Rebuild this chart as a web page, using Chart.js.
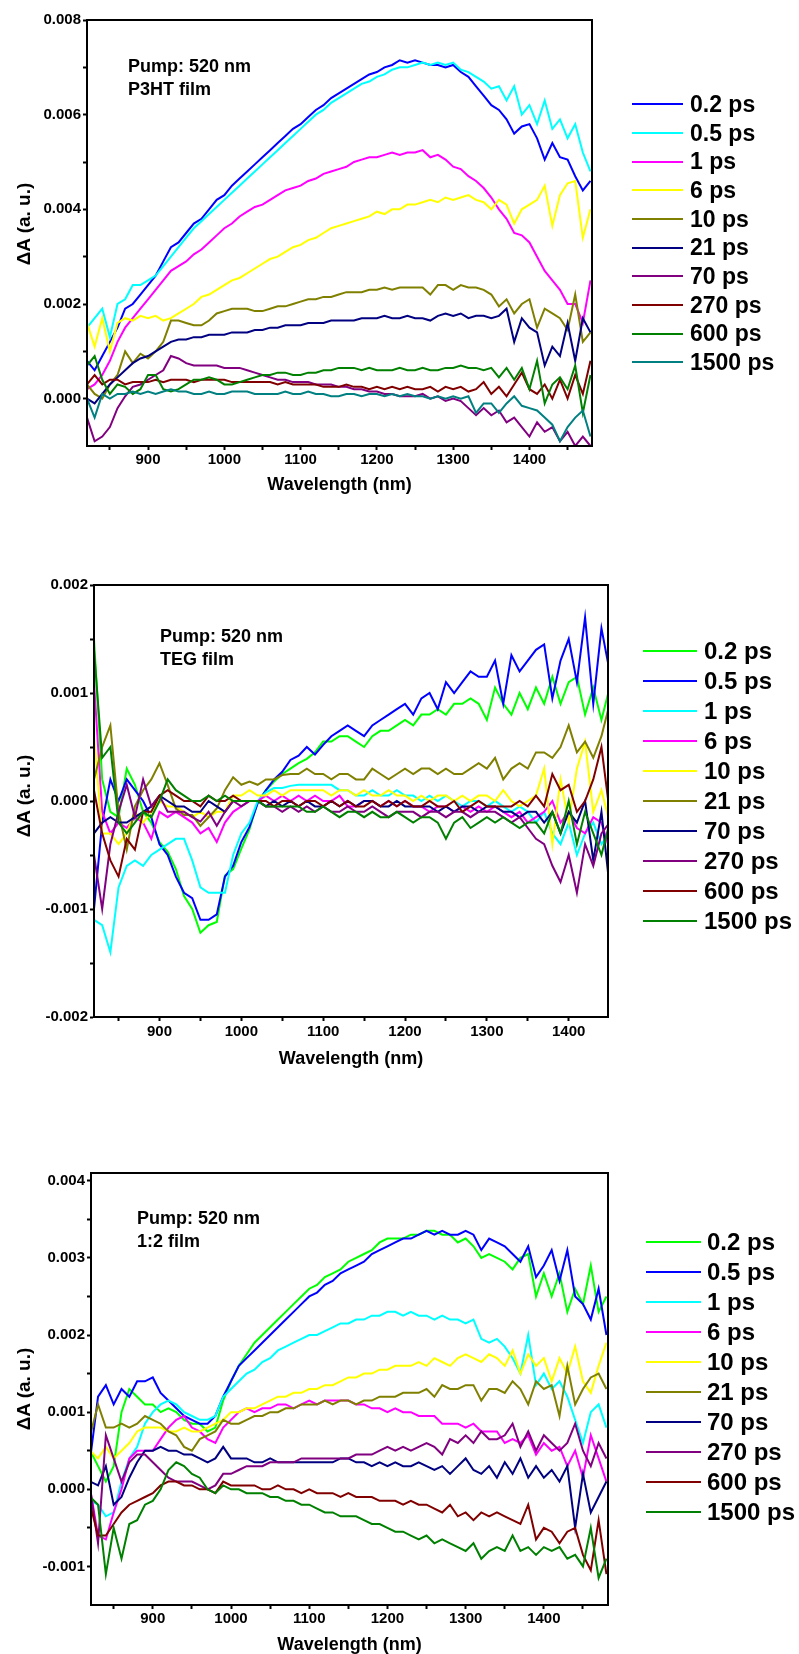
<!DOCTYPE html>
<html>
<head>
<meta charset="utf-8">
<title>Transient absorption spectra, pump 520 nm</title>
<script src="https://cdn.jsdelivr.net/npm/chart.js@4.4.0/dist/chart.umd.min.js"></script>
<style>
    html, body { margin: 0; padding: 0; background: #fff; }
    body {
        position: relative; width: 799px; height: 1654px; overflow: hidden;
        font-family: "Liberation Sans", Arial, Helvetica, sans-serif; font-weight: bold; color: #000;
    }
    canvas { position: absolute; left: 0; }
    .note { position: absolute; font-size: 18px; line-height: 22.5px; white-space: nowrap; }
    .ytitle {
        position: absolute; width: 200px; height: 24px; line-height: 24px;
        font-size: 19px; text-align: center; white-space: nowrap; transform: rotate(-90deg);
    }
    .legend { position: absolute; white-space: nowrap; }
    .legend .row { display: flex; align-items: center; }
    .legend .swatch { display: inline-block; height: 2px; }
</style>
</head>
<body>

<canvas id="chart1" width="799" height="500" style="top:0px"></canvas>
<canvas id="chart2" width="799" height="520" style="top:560px"></canvas>
<canvas id="chart3" width="799" height="506" style="top:1150px"></canvas>

<div class="ytitle" style="left:-76px; top:212px">ΔA (a. u.)</div>
<div class="ytitle" style="left:-76px; top:784px">ΔA (a. u.)</div>
<div class="ytitle" style="left:-76px; top:1377px">ΔA (a. u.)</div>

<div class="note" style="left:128px; top:55px">Pump: 520 nm<br>P3HT film</div>
<div class="note" style="left:160px; top:625px">Pump: 520 nm<br>TEG film</div>
<div class="note" style="left:137px; top:1207px">Pump: 520 nm<br>1:2 film</div>

<div class="legend" id="legend1"></div>
<div class="legend" id="legend2"></div>
<div class="legend" id="legend3"></div>

<script>
// ---------- data (ΔA) ----------

// Panel 1 : P3HT film
var p1Wavelength = [820, 830, 840, 850, 860, 870, 880, 890, 900, 910, 920, 930, 940, 950, 960, 970, 980, 990, 1000, 1010,
    1020, 1030, 1040, 1050, 1060, 1070, 1080, 1090, 1100, 1110, 1120, 1130, 1140, 1150, 1160, 1170, 1180, 1190, 1200, 1210,
    1220, 1230, 1240, 1250, 1260, 1270, 1280, 1290, 1300, 1310, 1320, 1330, 1340, 1350, 1360, 1370, 1380, 1390, 1400, 1410,
    1420, 1430, 1440, 1450, 1460, 1470, 1480];
var p1Labels = ['0.2 ps', '0.5 ps', '1 ps', '6 ps', '10 ps', '21 ps', '70 ps', '270 ps', '600 ps', '1500 ps'];
var p1Colors = ['#0000FF', '#00FFFF', '#FF00FF', '#FFFF00', '#808000', '#000080', '#800080', '#800000', '#008000', '#008080'];

var p1_02ps = [0.0008, 0.0006, 0.0009, 0.0012, 0.0015, 0.0019, 0.0020, 0.0022, 0.0024, 0.0026,
    0.0029, 0.0032, 0.0033, 0.0035, 0.0037, 0.0038, 0.0040, 0.0042, 0.0043, 0.0045,
    0.00465, 0.0048, 0.00495, 0.0051, 0.00525, 0.0054, 0.00555, 0.0057, 0.0058, 0.00595,
    0.0061, 0.0062, 0.00635, 0.00645, 0.00655, 0.00665, 0.00675, 0.00685, 0.0069, 0.0070,
    0.00705, 0.00715, 0.0071, 0.00715, 0.0071, 0.00705, 0.00705, 0.0070, 0.00705, 0.0069,
    0.0068, 0.0066, 0.0064, 0.0062, 0.0061, 0.0059, 0.0056, 0.00575, 0.0058, 0.0055,
    0.00505, 0.0054, 0.0051, 0.00505, 0.0047, 0.0044, 0.0046];
var p1_05ps = [0.0015, 0.0017, 0.0019, 0.0013, 0.0020, 0.0021, 0.0024, 0.0024, 0.0025, 0.0026,
    0.0028, 0.0030, 0.0032, 0.0034, 0.0036, 0.00375, 0.0039, 0.00405, 0.0042, 0.00435,
    0.0045, 0.00465, 0.0048, 0.00495, 0.0051, 0.00525, 0.0054, 0.00555, 0.0057, 0.00585,
    0.0060, 0.0061, 0.00625, 0.00635, 0.00645, 0.00655, 0.00665, 0.0067, 0.0068, 0.00685,
    0.00695, 0.0070, 0.0070, 0.00705, 0.0071, 0.00705, 0.0071, 0.00705, 0.0071, 0.00695,
    0.0069, 0.0068, 0.0067, 0.00655, 0.0066, 0.0063, 0.0066, 0.0060, 0.0062, 0.0058,
    0.0063, 0.0057, 0.0059, 0.0055, 0.0058, 0.0052, 0.0048];
var p1_1ps = [0.0002, 0.0003, 0.0005, 0.0008, 0.0012, 0.0015, 0.0017, 0.0019, 0.0021, 0.0023,
    0.0025, 0.0027, 0.0028, 0.0029, 0.00305, 0.00315, 0.0033, 0.00345, 0.0036, 0.0037,
    0.00385, 0.00395, 0.00405, 0.0041, 0.0042, 0.0043, 0.0044, 0.00445, 0.0045, 0.0046,
    0.00465, 0.00475, 0.0048, 0.00485, 0.0049, 0.0050, 0.00505, 0.0051, 0.0051, 0.00515,
    0.0052, 0.00515, 0.0052, 0.0052, 0.00525, 0.0051, 0.00515, 0.00505, 0.0049, 0.00485,
    0.0047, 0.0046, 0.00445, 0.00425, 0.0040, 0.0038, 0.0035, 0.00345, 0.0033, 0.0030,
    0.0027, 0.0025, 0.0023, 0.0020, 0.0020, 0.0016, 0.0025];
var p1_6ps = [0.0016, 0.0011, 0.0017, 0.0010, 0.0016, 0.0017, 0.00165, 0.00175, 0.0017, 0.00175,
    0.00165, 0.0017, 0.0018, 0.0019, 0.0020, 0.00215, 0.0022, 0.0023, 0.0024, 0.0025,
    0.00255, 0.00265, 0.00275, 0.00285, 0.00295, 0.0030, 0.0031, 0.0032, 0.00325, 0.00335,
    0.0034, 0.0035, 0.0036, 0.00365, 0.0037, 0.00375, 0.0038, 0.00385, 0.00395, 0.0039,
    0.0040, 0.0040, 0.0041, 0.0041, 0.00415, 0.0042, 0.00415, 0.00425, 0.0042, 0.00425,
    0.0043, 0.0042, 0.00415, 0.0040, 0.0042, 0.0041, 0.0037, 0.0040, 0.0041, 0.0042,
    0.0045, 0.00365, 0.0043, 0.00455, 0.0046, 0.0034, 0.0040];
var p1_10ps = [0.0003, 0.0001, 0, 0.0003, 0.0005, 0.0010, 0.00075, 0.00095, 0.00085, 0.0010,
    0.0012, 0.00165, 0.00165, 0.0016, 0.00155, 0.00155, 0.00165, 0.0018, 0.00185, 0.0019,
    0.0019, 0.0019, 0.00185, 0.00185, 0.0019, 0.00195, 0.00195, 0.0020, 0.00205, 0.0021,
    0.0021, 0.00215, 0.00215, 0.0022, 0.00225, 0.00225, 0.00225, 0.0023, 0.0023, 0.00235,
    0.0023, 0.00235, 0.00235, 0.00235, 0.00235, 0.0022, 0.0024, 0.0024, 0.0023, 0.0024,
    0.00235, 0.00235, 0.0023, 0.0022, 0.00195, 0.0021, 0.0018, 0.0020, 0.0021, 0.0015,
    0.0019, 0.0018, 0.0017, 0.00145, 0.0022, 0.0012, 0.0014];
var p1_21ps = [0, -0.0001, 0.0001, 0.0003, 0.00045, 0.0006, 0.00075, 0.00085, 0.0009, 0.0010,
    0.0011, 0.0012, 0.00125, 0.00125, 0.0013, 0.0013, 0.00135, 0.00135, 0.00135, 0.0014,
    0.0014, 0.0014, 0.00145, 0.00145, 0.0015, 0.0015, 0.00155, 0.00155, 0.00155, 0.0016,
    0.0016, 0.0016, 0.00165, 0.00165, 0.00165, 0.00165, 0.0017, 0.0017, 0.0017, 0.00175,
    0.0017, 0.0017, 0.00175, 0.0017, 0.0017, 0.00165, 0.00175, 0.0018, 0.00175, 0.0018,
    0.0017, 0.00175, 0.00175, 0.0017, 0.00175, 0.0019, 0.0012, 0.0017, 0.0015, 0.0014,
    0.0007, 0.0011, 0.0009, 0.0016, 0.0008, 0.0017, 0.0014];
var p1_70ps = [-0.0004, -0.0009, -0.0008, -0.0006, -0.0002, 0.00005, 0.00025, 0.0003, 0.0004, 0.0005,
    0.0006, 0.0009, 0.00085, 0.00075, 0.0007, 0.0007, 0.0007, 0.0007, 0.00065, 0.00065,
    0.00065, 0.0006, 0.00055, 0.0005, 0.00045, 0.0004, 0.0004, 0.00035, 0.00035, 0.00035,
    0.0003, 0.0003, 0.0003, 0.00025, 0.00025, 0.0002, 0.0002, 0.00015, 0.00015, 0.0001,
    0.0001, 0.00005, 0.00005, 0.00005, 0.0001, 0, 0.00005, -0.00005, 0, -0.00005,
    -0.0002, -0.00035, -0.0002, -0.00035, -0.00025, -0.0005, -0.0004, -0.0006, -0.0008, -0.0005,
    -0.0007, -0.0006, -0.0009, -0.0007, -0.0010, -0.0008, -0.0010];
var p1_270ps = [0.0003, 0.0005, 0.0003, 0.0004, 0.0004, 0.0003, 0.00035, 0.00035, 0.00035, 0.0004,
    0.00035, 0.0004, 0.0004, 0.0004, 0.00035, 0.0004, 0.0004, 0.0004, 0.0004, 0.00035,
    0.00035, 0.00035, 0.00035, 0.00035, 0.00035, 0.0003, 0.00035, 0.0003, 0.0003, 0.0003,
    0.0003, 0.00025, 0.00025, 0.00025, 0.0003, 0.00025, 0.00025, 0.0002, 0.00025, 0.0002,
    0.00025, 0.0002, 0.00025, 0.0002, 0.0002, 0.00025, 0.00015, 0.00025, 0.0002, 0.00025,
    0.00015, 0.0002, 0.00035, 0.0001, 0.00025, 0.00005, 0.0003, 0.00055, 0.0002, 0.0001,
    0.0003, 0, 0.0004, 0, 0.0005, 0.0001, 0.0008];
var p1_600ps = [0.0007, 0.0009, 0.0004, 0.0001, 0.0003, 0.00025, 0.0001, 0.0002, 0.0005, 0.0005,
    0.0002, 0.00015, 0.0002, 0.0003, 0.0004, 0.0004, 0.00045, 0.0004, 0.0003, 0.0003,
    0.00035, 0.0004, 0.00045, 0.0005, 0.0005, 0.00055, 0.00055, 0.0005, 0.0005, 0.00055,
    0.00055, 0.0006, 0.0006, 0.00065, 0.00065, 0.00065, 0.0006, 0.00065, 0.0006, 0.0006,
    0.0006, 0.00065, 0.0006, 0.0006, 0.00065, 0.0006, 0.0006, 0.00065, 0.00065, 0.0007,
    0.00065, 0.00065, 0.0006, 0.00065, 0.00045, 0.00065, 0.0004, 0.00065, 0.0002, 0.0008,
    -0.0001, 0.0003, 0.00045, 0.0002, 0.0007, -0.0003, 0.0005];
var p1_1500ps = [0, -0.0004, 0.0001, 0, 0.0001, 0.0001, 0.00015, 0.0001, 0.00015, 0.0001,
    0.00015, 0.0002, 0.00015, 0.00015, 0.0001, 0.0001, 0.00015, 0.0001, 0.0001, 0.00015,
    0.00015, 0.00015, 0.0001, 0.0001, 0.0001, 0.0001, 0.00015, 0.0001, 0.0001, 0.00015,
    0.0001, 0.0001, 0.00005, 0.00005, 0.0001, 0.0001, 0.00005, 0.0001, 0.0001, 0.00005,
    0.0001, 0.00005, 0.0001, 0.00005, 0.00005, 0, 0.00005, 0, 0.00005, 0,
    0.00005, -0.0003, -0.0001, -0.0001, -0.0003, -0.0001, 0.00005, -0.00015, -0.0002, -0.00025,
    -0.0004, -0.00055, -0.0009, -0.0006, -0.0004, -0.00025, -0.0008];

var p1XMajor = [900, 1000, 1100, 1200, 1300, 1400];
var p1XLabels = ['900', '1000', '1100', '1200', '1300', '1400'];
var p1XMinor = [850, 950, 1050, 1150, 1250, 1350, 1450];
var p1YMajor = [0, 0.002, 0.004, 0.006, 0.008];
var p1YLabels = ['0.000', '0.002', '0.004', '0.006', '0.008'];
var p1YMinor = [0.001, 0.003, 0.005, 0.007];

// Panel 2 : TEG film
var p2Wavelength = [820, 830, 840, 850, 860, 870, 880, 890, 900, 910, 920, 930, 940, 950, 960, 970, 980, 990, 1000, 1010,
    1020, 1030, 1040, 1050, 1060, 1070, 1080, 1090, 1100, 1110, 1120, 1130, 1140, 1150, 1160, 1170, 1180, 1190, 1200, 1210,
    1220, 1230, 1240, 1250, 1260, 1270, 1280, 1290, 1300, 1310, 1320, 1330, 1340, 1350, 1360, 1370, 1380, 1390, 1400, 1410,
    1420, 1430, 1440, 1450];
var p2Labels = ['0.2 ps', '0.5 ps', '1 ps', '6 ps', '10 ps', '21 ps', '70 ps', '270 ps', '600 ps', '1500 ps'];
var p2Colors = ['#00FF00', '#0000FF', '#00FFFF', '#FF00FF', '#FFFF00', '#808000', '#000080', '#800080', '#800000', '#008000'];

var p2_02ps = [0.0015, 0.0002, -0.0001, -0.00015, 0.0003, 0.00015, -0.0001, -0.0002, -0.00038, -0.00047,
    -0.00063, -0.00088, -0.0010, -0.00122, -0.00115, -0.00112, -0.00069, -0.00063, -0.00044, -0.00026,
    -0.00001, 0.0001, 0.00018, 0.00025, 0.0003, 0.00035, 0.00039, 0.00045, 0.00055, 0.00055,
    0.0006, 0.0006, 0.00055, 0.0005, 0.0006, 0.00065, 0.00065, 0.0007, 0.00075, 0.0007,
    0.0008, 0.0008, 0.00085, 0.0008, 0.0009, 0.0009, 0.00095, 0.0009, 0.00075, 0.00105,
    0.0009, 0.0008, 0.0010, 0.00085, 0.00105, 0.0009, 0.00115, 0.0009, 0.0011, 0.00115,
    0.0008, 0.00105, 0.00075, 0.00105];
var p2_05ps = [-0.0010, -0.0002, 0.0002, 0, 0.0002, 0.0001, 0, -0.00015, -0.0004, -0.0005,
    -0.0007, -0.00085, -0.0009, -0.0011, -0.0011, -0.00105, -0.0007, -0.0006, -0.00038, -0.00024,
    -0.00002, 0.0001, 0.0002, 0.00027, 0.00038, 0.00042, 0.0005, 0.00043, 0.00052, 0.0006,
    0.00065, 0.0007, 0.00065, 0.0006, 0.0007, 0.00075, 0.0008, 0.00085, 0.0009, 0.0008,
    0.00095, 0.0010, 0.00085, 0.0011, 0.0010, 0.0011, 0.0012, 0.00115, 0.00115, 0.0013,
    0.0009, 0.00135, 0.0012, 0.0013, 0.0014, 0.00145, 0.00095, 0.0013, 0.0015, 0.0011,
    0.0017, 0.0009, 0.0016, 0.0012];
var p2_1ps = [-0.0011, -0.00115, -0.0014, -0.0008, -0.0006, -0.00055, -0.0006, -0.0005, -0.00045, -0.0004,
    -0.00035, -0.00035, -0.00055, -0.0008, -0.00085, -0.00085, -0.00085, -0.0005, -0.0003, -0.0002,
    0, 0.00008, 0.00012, 0.00012, 0.00014, 0.00015, 0.00015, 0.00015, 0.00015, 0.00015,
    0.0001, 0.0001, 0.00005, 0.00005, 0.0001, 0.00005, 0.00005, 0.0001, 0.00005, 0.00005,
    0, 0.00005, 0, 0.00005, 0, -0.00005, 0, 0, -0.00005, 0,
    -0.00005, -0.0001, -0.00005, -0.0001, -0.0002, -0.0001, -0.0003, -0.0004, -0.0002, -0.0005,
    -0.0003, -0.0002, -0.0004, -0.0003];
var p2_6ps = [0.0011, -0.0001, -0.0003, -0.0002, -0.00025, -0.00015, -0.0002, -0.00035, -0.0001, -0.00015,
    -0.0001, -0.00015, -0.0002, -0.0003, -0.00025, -0.00038, -0.0002, -0.0001, -0.00005, 0,
    0, 0.00005, 0, 0.00005, 0, 0.00005, 0, 0.00005, 0, 0,
    0.00005, -0.00005, -0.00005, 0, 0, -0.00005, 0, -0.00005, 0, -0.00005,
    -0.00005, -0.0001, -0.00005, -0.00005, -0.0001, -0.00005, -0.0001, -0.00005, -0.0001, -0.00005,
    -0.0001, -0.00015, -0.0001, -0.0002, -0.00015, -0.0001, 0, -0.0002, -0.0001, -0.00025,
    -0.0003, -0.00015, -0.0002, -0.00045];
var p2_10ps = [0.0006, -0.0003, -0.0003, -0.0004, -0.0003, -0.0001, -0.0002, -0.0001, 0, -0.00005,
    -0.00005, -0.0001, -0.00015, -0.0001, -0.00015, -0.0001, -0.0001, 0.00005, 0.00005, 0.0001,
    0.00005, 0.00005, 0.0001, 0.00005, 0.0001, 0.0001, 0.0001, 0.0001, 0.0001, 0.00005,
    0.0001, 0.0001, 0.00005, 0.0001, 0.00005, 0.00005, 0.0001, 0.00005, 0.00005, 0,
    0.00005, 0, 0.00005, 0.00005, 0, 0.00005, 0, 0.00005, 0.00005, 0,
    0.0001, 0, -0.00005, 0, 0.00005, 0.0003, -0.0004, 0.0002, -0.0002, 0.0003,
    0.00055, -0.0001, 0.0001, -0.0002];
var p2_21ps = [0.0002, 0.0005, 0.0007, -0.0001, -0.00045, -0.00005, 0.0001, 0.0002, 0.00035, 0.00015,
    -0.00007, -0.00013, -0.00013, -0.00023, -0.00015, -0.00007, 0.0001, 0.00022, 0.00015, 0.00018,
    0.00015, 0.0002, 0.0002, 0.00024, 0.00025, 0.00025, 0.0003, 0.00025, 0.00025, 0.0002,
    0.00025, 0.00025, 0.0002, 0.0002, 0.0003, 0.00025, 0.0002, 0.00025, 0.0003, 0.00025,
    0.0003, 0.0003, 0.00025, 0.0003, 0.00025, 0.00025, 0.0003, 0.00035, 0.0003, 0.0004,
    0.0002, 0.0003, 0.00035, 0.0003, 0.00045, 0.00045, 0.0004, 0.0005, 0.0007, 0.00045,
    0.00055, 0.0004, 0.0006, 0.0009];
var p2_70ps = [-0.0003, -0.0002, -0.00015, -0.0002, -0.0002, -0.00015, -0.0001, -0.00005, 0.00005, 0,
    -0.00005, -0.00005, -0.0001, -0.0001, 0, -0.00005, -0.0001, 0, 0, 0,
    0, -0.00005, 0, -0.00005, 0, -0.00005, 0, -0.00005, -0.00005, 0,
    -0.00005, 0, -0.00005, 0, 0, -0.00005, -0.00005, 0, -0.00005, -0.00005,
    -0.00005, -0.00005, -0.0001, -0.00005, -0.0001, -0.00005, -0.00005, -0.0001, -0.00005, -0.00005,
    -0.0001, -0.0001, -0.00015, -0.0001, -0.0001, -0.0002, -0.0001, -0.0003, -0.0001, -0.0002,
    0, -0.00055, -0.0001, -0.0008];
var p2_270ps = [-0.0005, -0.0010, -0.0004, -0.0001, 0.00015, -0.00015, 0.0002, -0.00005, 0.00005, -0.0001,
    -0.0001, -0.0001, -0.00015, -0.00019, -0.0001, -0.00023, -0.0001, 0, -0.00005, 0,
    0, -0.00005, -0.00005, -0.0001, -0.00005, -0.0001, -0.00005, -0.0001, -0.00005, -0.0001,
    -0.0001, -0.00005, -0.0001, -0.0001, -0.00005, -0.0001, -0.00015, -0.0001, -0.0001, -0.0001,
    -0.00015, -0.0001, -0.0001, -0.00015, -0.0001, -0.0001, -0.00015, -0.0001, -0.0001, -0.0001,
    -0.00015, -0.0002, -0.00015, -0.00025, -0.00035, -0.0004, -0.0006, -0.00075, -0.0005, -0.00085,
    -0.0004, -0.0006, -0.0003, -0.0002];
var p2_600ps = [0.0001, -0.0003, -0.00055, -0.0007, -0.00035, -0.00045, -0.0001, -0.0001, 0.00005, 0.0001,
    0.00005, 0, 0, -0.00005, 0.00005, 0, 0, 0.00005, 0, 0,
    0, 0, -0.00005, 0, 0, -0.00005, 0, 0, -0.00005, 0,
    -0.00005, 0, -0.00005, -0.00005, 0, -0.00005, 0, -0.00005, 0, -0.00005,
    -0.00005, 0, -0.00005, -0.00005, 0, -0.0001, -0.00005, 0, -0.00005, -0.00005,
    -0.00005, -0.00005, 0, -0.00005, 0.00005, -0.00005, 0.00025, 0.0001, 0.00015, -0.0001,
    0, 0.0002, 0.0005, -0.0001];
var p2_1500ps = [0.0014, 0.0004, 0.0005, -0.0002, -0.0003, -0.0002, -0.0001, -0.00015, 0, 0.0002,
    0.0001, 0.00005, 0, 0, 0.00005, 0, 0.00005, 0, 0, 0,
    0, -0.00005, -0.00005, -0.00005, -0.00005, -0.00005, -0.0001, -0.0001, -0.00005, -0.0001,
    -0.00015, -0.0001, -0.0001, -0.00015, -0.0001, -0.00015, -0.00015, -0.0001, -0.00015, -0.0002,
    -0.00015, -0.00015, -0.0002, -0.00035, -0.0002, -0.00015, -0.00025, -0.0002, -0.00015, -0.0002,
    -0.00015, -0.0002, -0.00025, -0.0002, -0.0002, -0.0003, -0.0001, -0.0003, 0, -0.0004,
    -0.0001, -0.0003, -0.0005, -0.0002];

var p2XMajor = [900, 1000, 1100, 1200, 1300, 1400];
var p2XLabels = ['900', '1000', '1100', '1200', '1300', '1400'];
var p2XMinor = [850, 950, 1050, 1150, 1250, 1350];
var p2YMajor = [-0.002, -0.001, 0, 0.001, 0.002];
var p2YLabels = ['-0.002', '-0.001', '0.000', '0.001', '0.002'];
var p2YMinor = [-0.0015, -0.0005, 0.0005, 0.0015];

// Panel 3 : 1:2 film
var p3Wavelength = [820, 830, 840, 850, 860, 870, 880, 890, 900, 910, 920, 930, 940, 950, 960, 970, 980, 990, 1000, 1010,
    1020, 1030, 1040, 1050, 1060, 1070, 1080, 1090, 1100, 1110, 1120, 1130, 1140, 1150, 1160, 1170, 1180, 1190, 1200, 1210,
    1220, 1230, 1240, 1250, 1260, 1270, 1280, 1290, 1300, 1310, 1320, 1330, 1340, 1350, 1360, 1370, 1380, 1390, 1400, 1410,
    1420, 1430, 1440, 1450, 1460, 1470, 1480];
var p3Labels = ['0.2 ps', '0.5 ps', '1 ps', '6 ps', '10 ps', '21 ps', '70 ps', '270 ps', '600 ps', '1500 ps'];
var p3Colors = ['#00FF00', '#0000FF', '#00FFFF', '#FF00FF', '#FFFF00', '#808000', '#000080', '#800080', '#800000', '#008000'];

var p3_02ps = [0.0005, 0.0003, 0.0001, 0.0003, 0.0010, 0.0013, 0.0012, 0.0011, 0.0011, 0.0010,
    0.00105, 0.0010, 0.0009, 0.00085, 0.00085, 0.00075, 0.0008, 0.00115, 0.0014, 0.0016,
    0.00175, 0.0019, 0.0020, 0.0021, 0.0022, 0.0023, 0.0024, 0.0025, 0.0026, 0.00265,
    0.00275, 0.0028, 0.00285, 0.00295, 0.0030, 0.00305, 0.0031, 0.0032, 0.00325, 0.00325,
    0.00325, 0.0033, 0.0033, 0.00335, 0.00335, 0.0033, 0.0033, 0.0032, 0.00325, 0.00315,
    0.0030, 0.00305, 0.0030, 0.00295, 0.00285, 0.0030, 0.00305, 0.0025, 0.0028, 0.0025,
    0.0028, 0.0023, 0.0026, 0.0024, 0.0029, 0.0023, 0.0025];
var p3_05ps = [0.0004, 0.0012, 0.00135, 0.0011, 0.0013, 0.0012, 0.0014, 0.0014, 0.00145, 0.00125,
    0.00115, 0.00105, 0.00095, 0.0009, 0.00085, 0.00085, 0.00095, 0.0012, 0.0014, 0.0016,
    0.0017, 0.0018, 0.0019, 0.0020, 0.0021, 0.0022, 0.0023, 0.0024, 0.0025, 0.00255,
    0.00265, 0.0027, 0.0028, 0.00285, 0.0029, 0.00295, 0.00305, 0.0031, 0.00315, 0.0032,
    0.00325, 0.00325, 0.0033, 0.00335, 0.0033, 0.00335, 0.0033, 0.0033, 0.00335, 0.0033,
    0.0031, 0.00325, 0.0032, 0.00315, 0.00305, 0.00295, 0.00315, 0.00275, 0.0029, 0.0031,
    0.0027, 0.0031, 0.0025, 0.0024, 0.0022, 0.0026, 0.0020];
var p3_1ps = [-0.00015, -0.0002, -0.00035, -0.0003, 0.0001, 0.0004, 0.00055, 0.00085, 0.0010, 0.0011,
    0.00115, 0.0011, 0.0010, 0.00095, 0.0009, 0.0009, 0.00095, 0.0012, 0.0013, 0.0014,
    0.0015, 0.00155, 0.00165, 0.0017, 0.0018, 0.00185, 0.0019, 0.00195, 0.0020, 0.0020,
    0.00205, 0.0021, 0.00215, 0.00215, 0.0022, 0.0022, 0.00225, 0.00225, 0.0023, 0.0023,
    0.00225, 0.0023, 0.00225, 0.00225, 0.0022, 0.00225, 0.0022, 0.0022, 0.00215, 0.0022,
    0.00195, 0.0019, 0.00195, 0.00185, 0.0017, 0.0015, 0.0020, 0.00135, 0.0015, 0.0013,
    0.0014, 0.0012, 0.0009, 0.0006, 0.0010, 0.0011, 0.0008];
var p3_6ps = [0, -0.0006, -0.00065, -0.0003, 0, 0.0004, 0.0005, 0.0005, 0.0005, 0.00065,
    0.0008, 0.0009, 0.00095, 0.0008, 0.00075, 0.00065, 0.0006, 0.0008, 0.0009, 0.0010,
    0.00105, 0.0010, 0.00105, 0.00105, 0.0011, 0.0011, 0.00105, 0.0011, 0.00115, 0.0011,
    0.00115, 0.00115, 0.00115, 0.00115, 0.0011, 0.0011, 0.00105, 0.00105, 0.0010, 0.00105,
    0.0010, 0.0010, 0.00095, 0.00095, 0.00095, 0.00085, 0.00085, 0.00085, 0.0008, 0.00085,
    0.00075, 0.00075, 0.00075, 0.0006, 0.00065, 0.0006, 0.0007, 0.00045, 0.0006, 0.0005,
    0.00055, 0.0003, 0.0005, 0.00015, 0.0007, 0.0004, 0.0001];
var p3_10ps = [0.0005, 0.0004, 0.00055, 0.0004, 0.0005, 0.0006, 0.00075, 0.0008, 0.0008, 0.0008,
    0.00075, 0.00075, 0.0008, 0.00075, 0.00075, 0.0008, 0.00085, 0.0009, 0.0010, 0.0010,
    0.00105, 0.00105, 0.0011, 0.00115, 0.0012, 0.0012, 0.00125, 0.00125, 0.0013, 0.0013,
    0.00135, 0.00135, 0.0014, 0.00145, 0.00145, 0.0015, 0.0015, 0.00155, 0.00155, 0.0016,
    0.0016, 0.0016, 0.00165, 0.0016, 0.0017, 0.00165, 0.0016, 0.0017, 0.00175, 0.0017,
    0.00165, 0.00175, 0.0017, 0.0016, 0.0018, 0.0015, 0.00175, 0.0016, 0.0017, 0.0014,
    0.0017, 0.0015, 0.00185, 0.0014, 0.00125, 0.0016, 0.0019];
var p3_21ps = [0.0007, 0.0011, 0.0008, 0.0008, 0.00085, 0.0008, 0.00085, 0.00095, 0.0009, 0.00085,
    0.00075, 0.0007, 0.00055, 0.0005, 0.00065, 0.0007, 0.00075, 0.0009, 0.00085, 0.00085,
    0.0009, 0.00095, 0.00095, 0.0010, 0.0010, 0.00105, 0.00105, 0.0011, 0.0011, 0.0011,
    0.00115, 0.0011, 0.00115, 0.00115, 0.0011, 0.00115, 0.00115, 0.0012, 0.0012, 0.0012,
    0.00125, 0.00125, 0.00125, 0.0013, 0.0012, 0.00135, 0.0013, 0.0013, 0.00135, 0.00135,
    0.00115, 0.0013, 0.0013, 0.00125, 0.0014, 0.0013, 0.0011, 0.0014, 0.0013, 0.00135,
    0.00095, 0.0016, 0.0011, 0.0013, 0.00145, 0.0015, 0.0013];
var p3_70ps = [0.0001, 0.00005, 0.0003, -0.0002, -0.0001, 0.00015, 0.00035, 0.0005, 0.0005, 0.00055,
    0.0005, 0.0005, 0.00045, 0.00045, 0.0004, 0.00035, 0.0004, 0.00055, 0.0004, 0.0004,
    0.0004, 0.00035, 0.00035, 0.0004, 0.00035, 0.00035, 0.00035, 0.00035, 0.00035, 0.00035,
    0.00035, 0.00035, 0.0004, 0.0004, 0.00035, 0.00035, 0.0003, 0.00035, 0.0003, 0.00035,
    0.0003, 0.0003, 0.00035, 0.0003, 0.00025, 0.0003, 0.0002, 0.0003, 0.0004, 0.00025,
    0.0002, 0.0003, 0.00015, 0.00035, 0.0002, 0.0004, 0.00015, 0.0003, 0.00015, 0.00025,
    0.0001, 0.0003, -0.0005, 0.0002, -0.0003, -0.0001, 0.0001];
var p3_270ps = [0, -0.0007, 0.0007, 0.0004, 0.0001, 0.00035, 0.00045, 0.00045, 0.00035, 0.00025,
    0.00015, 0.0001, 0.0001, 0.0001, 0.00005, 0, 0.00005, 0.0002, 0.0002, 0.00025,
    0.0003, 0.0003, 0.0003, 0.00035, 0.00035, 0.00035, 0.00035, 0.0004, 0.0004, 0.0004,
    0.0004, 0.0004, 0.0004, 0.0004, 0.00045, 0.00045, 0.00045, 0.0005, 0.00055, 0.0005,
    0.00055, 0.0005, 0.00055, 0.0006, 0.00055, 0.00045, 0.00065, 0.0006, 0.0007, 0.0006,
    0.00075, 0.00065, 0.00065, 0.0007, 0.00085, 0.00055, 0.00075, 0.0005, 0.0007, 0.0006,
    0.0005, 0.0006, 0.00085, 0.0005, 0.0003, 0.0006, 0.0004];
var p3_600ps = [-0.0002, -0.0006, -0.0006, -0.00045, -0.0003, -0.0002, -0.00015, -0.0001, -0.00005, 0.00005,
    0.0001, 0.0001, 0.00005, 0.00005, 0, 0, -0.00005, 0.0001, 0.00005, 0.00005,
    0.00005, 0.00005, 0, 0, 0.00005, 0, 0, -0.00005, 0, -0.00005,
    -0.00005, -0.00005, -0.0001, -0.00005, -0.0001, -0.0001, -0.0001, -0.00015, -0.00015, -0.00015,
    -0.0002, -0.00015, -0.0002, -0.0002, -0.00025, -0.0003, -0.0002, -0.00035, -0.0003, -0.0004,
    -0.0003, -0.00035, -0.0003, -0.00035, -0.0004, -0.00045, -0.0002, -0.00065, -0.0005, -0.00055,
    -0.0007, -0.00055, -0.0005, -0.00085, -0.00105, -0.0004, -0.0011];
var p3_1500ps = [-0.0001, -0.0002, -0.0011, -0.0005, -0.0009, -0.00045, -0.0004, -0.0002, -0.00015, 0,
    0.00025, 0.00035, 0.0003, 0.0002, 0.00015, 0, -0.00005, 0.00005, 0, 0,
    -0.00005, -0.00005, -0.00005, -0.0001, -0.0001, -0.00015, -0.00015, -0.0002, -0.0002, -0.00025,
    -0.0003, -0.0003, -0.00035, -0.00035, -0.00035, -0.0004, -0.00045, -0.00045, -0.0005, -0.00055,
    -0.00055, -0.0006, -0.00065, -0.0006, -0.0007, -0.00065, -0.0007, -0.00075, -0.0008, -0.0007,
    -0.0009, -0.0008, -0.00075, -0.0008, -0.0006, -0.0008, -0.00075, -0.00085, -0.00075, -0.0008,
    -0.00075, -0.0009, -0.00085, -0.0010, -0.0005, -0.00115, -0.0009];

var p3XMajor = [900, 1000, 1100, 1200, 1300, 1400];
var p3XLabels = ['900', '1000', '1100', '1200', '1300', '1400'];
var p3XMinor = [850, 950, 1050, 1150, 1250, 1350, 1450];
var p3YMajor = [-0.001, 0, 0.001, 0.002, 0.003, 0.004];
var p3YLabels = ['-0.001', '0.000', '0.001', '0.002', '0.003', '0.004'];
var p3YMinor = [-0.0005, 0.0005, 0.0015, 0.0025, 0.0035];

// ---------- drawing ----------

Chart.defaults.font.family = '"Liberation Sans", Arial, Helvetica, sans-serif';
Chart.defaults.font.weight = 'bold';
Chart.defaults.color = '#000';

var PAGE_W = 799;

// black box round the plot area (Origin style frame)
var framePlugin = {
    id: 'frame',
    afterDatasetsDraw: function (chart) {
        var a = chart.chartArea, ctx = chart.ctx;
        ctx.save();
        ctx.strokeStyle = '#000';
        ctx.lineWidth = 2;
        ctx.strokeRect(a.left, a.top, a.right - a.left, a.bottom - a.top);
        ctx.restore();
    }
};

function tickObjects(major, minor) {
    return major.concat(minor).sort(function (a, b) { return a - b; })
        .map(function (v) { return { value: v }; });
}

function tickLabel(major, labels) {
    return function (value) {
        for (var i = 0; i < major.length; i++) {
            if (Math.abs(major[i] - value) < 1e-12) return labels[i];
        }
        return '';
    };
}

function makeChart(canvasId, p) {
    var ctx = document.getElementById(canvasId).getContext('2d');
    var n = p.series.length;
    var datasets = p.series.map(function (ys, i) {
        return {
            label: p.labels[i],
            data: ys.map(function (y, j) { return { x: p.wavelength[j], y: y }; }),
            borderColor: p.colors[i],
            backgroundColor: p.colors[i],
            borderWidth: 2,
            pointRadius: 0,
            tension: 0,
            fill: false,
            clip: 1,
            order: n - i
        };
    });

    return new Chart(ctx, {
        type: 'line',
        data: { datasets: datasets },
        options: {
            responsive: false,
            animation: false,
            events: [],
            layout: { padding: { top: p.area.top, right: PAGE_W - p.area.right, left: 0, bottom: 0 } },
            plugins: { legend: { display: false }, tooltip: { enabled: false } },
            scales: {
                x: {
                    type: 'linear',
                    min: p.xMin,
                    max: p.xMax,
                    afterFit: function (s) { s.height = p.height - p.area.bottom; },
                    afterBuildTicks: function (s) { s.ticks = tickObjects(p.xMajor, p.xMinor); },
                    ticks: {
                        callback: tickLabel(p.xMajor, p.xLabels),
                        autoSkip: false, maxRotation: 0, padding: p.xTickPad,
                        font: { size: 15, weight: 'bold' }, color: '#000'
                    },
                    grid: { drawOnChartArea: false, drawTicks: true, tickLength: 4, tickWidth: 2, tickColor: '#000' },
                    border: { color: '#000', width: 2 },
                    title: {
                        display: true, text: 'Wavelength (nm)', color: '#000',
                        font: { size: 18, weight: 'bold' },
                        padding: { top: 0, bottom: p.xTitlePad }
                    }
                },
                y: {
                    type: 'linear',
                    min: p.yMin,
                    max: p.yMax,
                    afterFit: function (s) { s.width = p.area.left; },
                    afterBuildTicks: function (s) { s.ticks = tickObjects(p.yMajor, p.yMinor); },
                    ticks: {
                        callback: tickLabel(p.yMajor, p.yLabels),
                        autoSkip: false, padding: 2,
                        font: { size: 15, weight: 'bold' }, color: '#000'
                    },
                    grid: { drawOnChartArea: false, drawTicks: true, tickLength: 4, tickWidth: 2, tickColor: '#000' },
                    border: { color: '#000', width: 2 },
                    // the ΔA title sits in an html div (it is not centred on the axis in the original)
                    title: { display: false }
                }
            }
        },
        plugins: [framePlugin]
    });
}

function buildLegend(id, labels, colors, g) {
    var box = document.getElementById(id);
    box.style.left = g.left + 'px';
    box.style.top = (g.firstY - g.step / 2) + 'px';
    box.style.fontSize = g.font + 'px';
    labels.forEach(function (text, i) {
        var row = document.createElement('div');
        row.className = 'row';
        row.style.height = g.step + 'px';
        row.style.lineHeight = g.step + 'px';
        var sw = document.createElement('span');
        sw.className = 'swatch';
        sw.style.width = g.line + 'px';
        sw.style.marginRight = g.gap + 'px';
        sw.style.background = colors[i];
        var tx = document.createElement('span');
        tx.textContent = text;
        row.appendChild(sw);
        row.appendChild(tx);
        box.appendChild(row);
    });
}

makeChart('chart1', {
    height: 500, area: { left: 87, right: 592, top: 20, bottom: 446 },
    xMin: 820, xMax: 1482, yMin: -0.001, yMax: 0.008,
    wavelength: p1Wavelength, labels: p1Labels, colors: p1Colors,
    series: [p1_02ps, p1_05ps, p1_1ps, p1_6ps, p1_10ps, p1_21ps, p1_70ps, p1_270ps, p1_600ps, p1_1500ps],
    xMajor: p1XMajor, xLabels: p1XLabels, xMinor: p1XMinor,
    yMajor: p1YMajor, yLabels: p1YLabels, yMinor: p1YMinor,
    xTickPad: 1, xTitlePad: 4
});

makeChart('chart2', {
    height: 520, area: { left: 94, right: 608, top: 25, bottom: 457 },
    xMin: 820, xMax: 1448, yMin: -0.002, yMax: 0.002,
    wavelength: p2Wavelength, labels: p2Labels, colors: p2Colors,
    series: [p2_02ps, p2_05ps, p2_1ps, p2_6ps, p2_10ps, p2_21ps, p2_70ps, p2_270ps, p2_600ps, p2_1500ps],
    xMajor: p2XMajor, xLabels: p2XLabels, xMinor: p2XMinor,
    yMajor: p2YMajor, yLabels: p2YLabels, yMinor: p2YMinor,
    xTickPad: 2, xTitlePad: 10
});

makeChart('chart3', {
    height: 506, area: { left: 91, right: 608, top: 23, bottom: 455 },
    xMin: 821, xMax: 1482, yMin: -0.0015, yMax: 0.0041,
    wavelength: p3Wavelength, labels: p3Labels, colors: p3Colors,
    series: [p3_02ps, p3_05ps, p3_1ps, p3_6ps, p3_10ps, p3_21ps, p3_70ps, p3_270ps, p3_600ps, p3_1500ps],
    xMajor: p3XMajor, xLabels: p3XLabels, xMinor: p3XMinor,
    yMajor: p3YMajor, yLabels: p3YLabels, yMinor: p3YMinor,
    xTickPad: 1, xTitlePad: 0
});

buildLegend('legend1', p1Labels, p1Colors, { left: 632, firstY: 104.3, step: 28.7, line: 51, gap: 7, font: 23 });
buildLegend('legend2', p2Labels, p2Colors, { left: 643, firstY: 650.7, step: 30, line: 54, gap: 7, font: 24 });
buildLegend('legend3', p3Labels, p3Colors, { left: 646, firstY: 1241.7, step: 30, line: 55, gap: 6, font: 24 });
</script>
</body>
</html>
